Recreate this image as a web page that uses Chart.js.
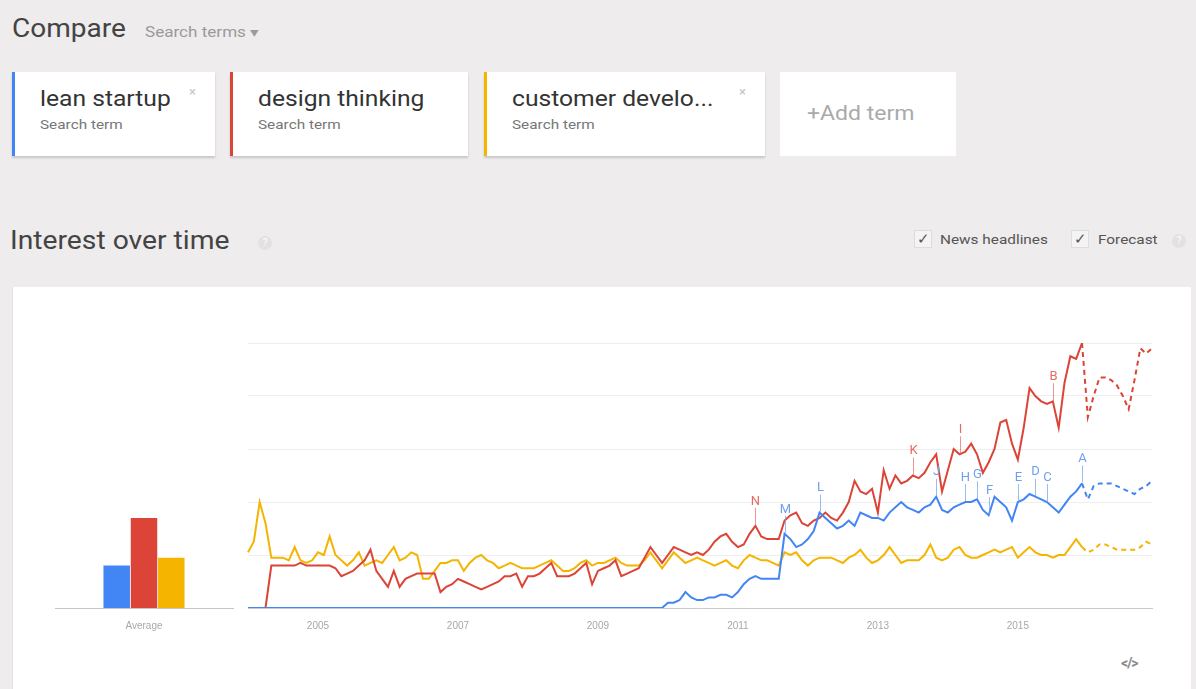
<!DOCTYPE html>
<html lang="en">
  <head>
    <meta charset="UTF-8" />
    <title>Compare - Interest over time</title>
    <script src="https://cdn.jsdelivr.net/npm/chart.js"></script>
    <style>
      body {
        margin: 0;
        width: 1196px;
        height: 689px;
        overflow: hidden;
        position: relative;
        background: #eeeced;
        font-family: Roboto, Arial, sans-serif;
      }
      .abs { position: absolute; transform-origin: left center; }
      .compare { left: 12px; top: 14px; font-size: 25px; color: #444; transform: scaleX(1.12); }
      .search-terms { left: 145px; top: 24px; font-size: 14px; color: #9a9a9a; transform: scaleX(1.22); }
      .card {
        position: absolute;
        top: 72px;
        height: 84px;
        background: #fff;
        box-sizing: border-box;
        box-shadow: 0 2px 2px rgba(0, 0, 0, 0.16);
      }
      .card .term {
        position: absolute; left: 25px; top: 14px; font-size: 22px; color: #333;
        transform: scaleX(1.12); transform-origin: left center;
      }
      .card .sub {
        position: absolute; left: 25px; top: 45px; font-size: 13px; color: #777;
        transform: scaleX(1.18); transform-origin: left center;
      }
      .card .close { position: absolute; top: 12px; font-size: 13px; color: #c4c4c4; }
      .add { left: 780px; width: 176px; box-shadow: none; }
      .add span {
        position: absolute; left: 27px; top: 29px; font-size: 20px; color: #aaa;
        transform: scaleX(1.15); transform-origin: left center;
      }
      .interest { left: 10px; top: 226px; font-size: 25px; color: #444; transform: scaleX(1.13); }
      .help {
        width: 14px; height: 14px; border-radius: 50%;
        background: #e2e2e2; color: #fff; font-size: 10px;
        text-align: center; line-height: 14px;
      }
      .check {
        width: 16px; height: 16px; border: 1px solid #ddd; background: #f4f4f4;
        font-size: 15px; line-height: 16px; text-align: center; color: #555;
      }
      .opt { font-size: 13px; color: #555; top: 232px; transform: scaleX(1.18); }
      .panel {
        left: 12px; top: 287px; width: 1178px; height: 410px;
        background: #fff; border-left: 1px solid #e3e3e3;
      }
      .embed { left: 1121px; top: 655px; font-size: 14px; font-weight: bold; color: #888; letter-spacing: -1px; }
      canvas { position: absolute; }
    </style>
  </head>
  <body>
    <div class="abs compare">Compare</div>
    <div class="abs search-terms">Search terms &#9662;</div>

    <div class="card" style="left: 12px; width: 203px; border-left: 3px solid #4285f4">
      <div class="term">lean startup</div>
      <div class="sub">Search term</div>
      <div class="close" style="left: 174px">&times;</div>
    </div>
    <div class="card" style="left: 230px; width: 238px; border-left: 3px solid #db4437">
      <div class="term">design thinking</div>
      <div class="sub">Search term</div>
    </div>
    <div class="card" style="left: 484px; width: 281px; border-left: 3px solid #f4b400">
      <div class="term">customer develo...</div>
      <div class="sub">Search term</div>
      <div class="close" style="left: 252px">&times;</div>
    </div>
    <div class="card add"><span>+Add term</span></div>

    <div class="abs interest">Interest over time</div>
    <div class="abs help" style="left: 258px; top: 236px">?</div>
    <div class="abs check" style="left: 914px; top: 230px">&#10003;</div>
    <div class="abs opt" style="left: 940px">News headlines</div>
    <div class="abs check" style="left: 1071px; top: 230px">&#10003;</div>
    <div class="abs opt" style="left: 1098px">Forecast</div>
    <div class="abs help" style="left: 1172px; top: 234px">?</div>

    <div class="abs panel"></div>
    <canvas id="avgChart" width="200" height="310" style="left: 40px; top: 330px"></canvas>
    <canvas id="trendChart" width="930" height="310" style="left: 240px; top: 330px"></canvas>
    <div class="abs embed">&lt;/&gt;</div>

    <script>
      const terms = ["lean startup", "design thinking", "customer development"];
      const colors = ["#4285f4", "#db4437", "#f4b400"];
      const letterColors = ["#6f9ff0", "#e46a63"];
      const startYear = 2004;
      const yearTicks = ["2005", "2007", "2009", "2011", "2013", "2015"];
      const forecastFrom = 143; // last real month (Dec 2015), dashed after

      // monthly values, Jan 2004 - Dec 2016
      const leanStartup = [
        0, 0, 0, 0, 0, 0, 0, 0, 0, 0, 0, 0,
        0, 0, 0, 0, 0, 0, 0, 0, 0, 0, 0, 0,
        0, 0, 0, 0, 0, 0, 0, 0, 0, 0, 0, 0,
        0, 0, 0, 0, 0, 0, 0, 0, 0, 0, 0, 0,
        0, 0, 0, 0, 0, 0, 0, 0, 0, 0, 0, 0,
        0, 0, 0, 0, 0, 0, 0, 0, 0, 0, 0, 0,
        2, 2, 3, 6, 4, 3, 3, 4, 4, 5, 5, 4,
        6, 9, 11, 12, 11, 11, 11, 11, 28, 26, 23, 24,
        26, 29, 36, 34, 32, 30, 31, 33, 31, 36, 35, 34,
        34, 33, 36, 38, 40, 38, 37, 36, 38, 39, 42, 37,
        36, 38, 39, 40, 40, 41, 37, 35, 42, 40, 38, 33,
        40, 41, 43, 42, 41, 40, 38, 36, 39, 42, 44, 47,
        41, 46, 47, 47, 47, 46, 45, 44, 43, 45, 46, 48,
      ];
      const designThinking = [
        0, 0, 0, 0, 16, 16, 16, 16, 16, 17, 16, 16,
        16, 16, 16, 15, 12, 13, 14, 16, 18, 22, 14, 11,
        8, 14, 8, 11, 12, 13, 13, 13, 13, 6, 8, 9,
        11, 10, 9, 8, 7, 8, 9, 10, 12, 12, 13, 8,
        12, 12, 13, 15, 17, 12, 12, 12, 13, 15, 17, 9,
        14, 15, 16, 18, 12, 13, 14, 15, 19, 23, 20, 17,
        20, 23, 22, 21, 20, 21, 20, 22, 25, 27, 28, 25,
        23, 24, 28, 31, 27, 26, 26, 26, 33, 35, 36, 32,
        31, 33, 34, 36, 34, 33, 36, 40, 48, 44, 43, 45,
        36, 52, 45, 50, 47, 48, 50, 49, 51, 55, 58, 44,
        52, 60, 58, 59, 62, 58, 51, 55, 60, 70, 71, 62,
        56, 68, 83, 80, 78, 77, 78, 68, 85, 95, 94, 100,
        72, 80, 87, 87, 86, 84, 80, 75, 86, 98, 96, 98,
      ];
      const customerDevelopment = [
        21, 25, 40, 32, 19, 19, 19, 18, 23, 18, 17, 18,
        21, 20, 27, 20, 18, 16, 18, 21, 16, 17, 18, 17,
        20, 23, 18, 19, 21, 20, 11, 11, 14, 17, 17, 18,
        18, 14, 17, 19, 20, 18, 17, 15, 16, 17, 16, 15,
        15, 15, 16, 17, 18, 16, 14, 14, 15, 17, 18, 16,
        17, 17, 18, 19, 17, 16, 16, 16, 18, 21, 18, 15,
        18, 21, 19, 17, 18, 19, 18, 17, 16, 17, 18, 16,
        15, 18, 20, 19, 18, 18, 17, 16, 21, 20, 21, 18,
        16, 18, 19, 19, 19, 18, 17, 19, 20, 22, 19, 17,
        18, 20, 23, 20, 17, 18, 18, 18, 20, 24, 19, 18,
        19, 22, 23, 20, 19, 19, 20, 21, 22, 21, 22, 23,
        19, 21, 23, 21, 20, 20, 19, 20, 20, 23, 26, 23,
        21, 22, 24, 24, 23, 22, 22, 22, 22, 23, 25, 24,
      ];
      const averages = [16, 34, 19];

      // news headline markers: letter, month index, series (0 lean, 1 design)
      const newsLetters = ["A", "B", "C", "D", "E", "F", "G", "H", "I", "J", "K", "L", "M", "N"];
      const newsMonth = [143, 138, 137, 135, 132, 127, 125, 123, 122, 118, 114, 98, 92, 87];
      const newsTerm = [0, 1, 0, 0, 0, 0, 0, 0, 1, 0, 1, 0, 0, 1];

      const monthLabels = [];
      for (let i = 0; i < leanStartup.length; i++) {
        const y = startYear + Math.floor(i / 12);
        monthLabels.push(`${y}-${String((i % 12) + 1).padStart(2, "0")}`);
      }

      const newsMarkers = {
        id: "newsMarkers",
        afterDatasetsDraw(chart) {
          const { ctx } = chart;
          const x = chart.scales.x;
          const y = chart.scales.y;
          ctx.save();
          ctx.font = "13px Roboto, Arial, sans-serif";
          ctx.textAlign = "center";
          ctx.textBaseline = "bottom";
          newsLetters.forEach((letter, k) => {
            const s = newsTerm[k];
            const value = chart.data.datasets[s].data[newsMonth[k]];
            const px = Math.round(x.getPixelForValue(newsMonth[k])) + 0.5;
            const py = y.getPixelForValue(value);
            ctx.strokeStyle = letterColors[s];
            ctx.globalAlpha = 0.7;
            ctx.lineWidth = 1;
            ctx.beginPath();
            ctx.moveTo(px, py - 1);
            ctx.lineTo(px, py - 18);
            ctx.stroke();
            ctx.globalAlpha = 1;
            ctx.fillStyle = letterColors[s];
            ctx.fillText(letter, px, py - 18);
          });
          ctx.restore();
        },
      };

      const dashForecast = (ctx) =>
        ctx.p0DataIndex >= forecastFrom ? [5, 4] : undefined;

      const series = [leanStartup, designThinking, customerDevelopment];

      new Chart(document.getElementById("trendChart"), {
        type: "line",
        data: {
          labels: monthLabels,
          datasets: series.map((data, k) => ({
            label: terms[k],
            data: data,
            borderColor: colors[k],
            borderWidth: 2,
            pointRadius: 0,
            tension: 0,
            segment: { borderDash: dashForecast },
          })),
        },
        options: {
          responsive: false,
          animation: false,
          layout: { padding: { left: 8, right: 18, top: 13, bottom: 0 } },
          plugins: { legend: { display: false }, tooltip: { enabled: false } },
          scales: {
            x: {
              grid: { display: false, drawTicks: false },
              border: { color: "#c8cad2" },
              ticks: {
                autoSkip: false,
                maxRotation: 0,
                padding: 12,
                color: "#a8a8a8",
                font: { size: 10 },
                callback: (v, i) => {
                  const [yy, mm] = monthLabels[i].split("-");
                  return mm === "01" && yearTicks.includes(yy) ? yy : null;
                },
              },
              afterFit: (s) => {
                s.height = 32;
              },
            },
            y: {
              min: 0,
              max: 100,
              ticks: { display: false, stepSize: 20 },
              grid: { color: "#eeeeee", drawTicks: false },
              border: { display: false },
              afterFit: (s) => {
                s.width = 0;
              },
            },
          },
        },
        plugins: [newsMarkers],
      });

      new Chart(document.getElementById("avgChart"), {
        type: "bar",
        data: {
          labels: ["Average"],
          datasets: averages.map((v, k) => ({
            label: terms[k],
            data: [v],
            backgroundColor: colors[k],
            borderWidth: 0,
            barPercentage: 0.97,
            categoryPercentage: 0.46,
          })),
        },
        options: {
          responsive: false,
          animation: false,
          layout: { padding: { left: 15, right: 7, top: 13, bottom: 0 } },
          plugins: { legend: { display: false }, tooltip: { enabled: false } },
          scales: {
            x: {
              grid: { display: false, drawTicks: false },
              border: { color: "#c9c3c6" },
              ticks: { padding: 12, color: "#a8a8a8", font: { size: 10 } },
              afterFit: (s) => {
                s.height = 32;
              },
            },
            y: {
              min: 0,
              max: 100,
              ticks: { display: false },
              grid: { display: false },
              border: { display: false },
              afterFit: (s) => {
                s.width = 0;
              },
            },
          },
        },
      });
    </script>
  </body>
</html>
